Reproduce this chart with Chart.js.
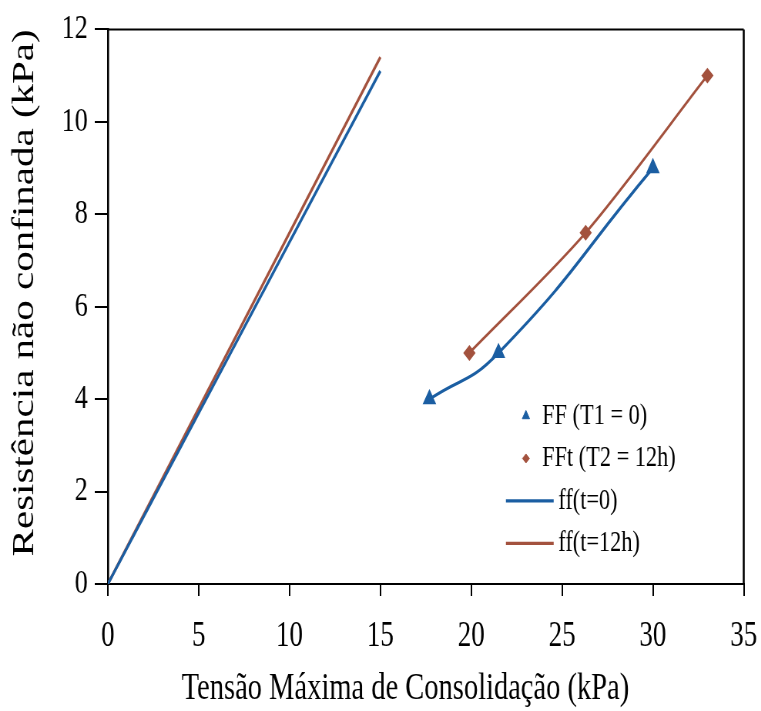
<!DOCTYPE html>
<html>
<head>
<meta charset="utf-8">
<script src="https://cdn.jsdelivr.net/npm/chart.js@4/dist/chart.umd.min.js"></script>
<style>
  html, body { margin: 0; padding: 0; background: #fff; overflow: hidden; width: 761px; height: 711px; }
  /* the scanned figure is narrower than it is tall, so draw wide and squeeze */
  #chart { display: block; transform: scaleX(0.7703); transform-origin: 0 0; }
</style>
</head>
<body>
<canvas id="chart" width="1003" height="711"></canvas>
<script>
// measured points
const ffT0X = [17.7, 21.5, 30.0]
const ffT0Y = [4.0, 5.0, 9.0]
const ffT12X = [19.9, 26.3, 33.0]
const ffT12Y = [5.0, 7.6, 11.0]
// fitted lines
const lineT0X = [0, 15]
const lineT0Y = [0, 11.1]
const lineT12X = [0, 15]
const lineT12Y = [0, 11.4]

const seriesLabels = ['FF (T1 = 0)', 'FFt (T2 = 12h)', 'ff(t=0)', 'ff(t=12h)']
const xTitle = 'Tensão Máxima de Consolidação (kPa)'
const yTitle = 'Resistência não confinada (kPa)'

const BLUE = '#1b5ea2'
const BROWN = '#a3523e'
const FONT = '"Liberation Serif", "Times New Roman", serif'

const toPoints = (xs, ys) => xs.map((x, i) => ({ x: x, y: ys[i] }))

// frame on top and right side of the plot, plus the two axis titles
const framePlugin = {
    id: 'frame',
    afterDraw(chart) {
        const { ctx, chartArea: a } = chart
        ctx.save()
        ctx.strokeStyle = '#000'
        ctx.lineWidth = 2
        ctx.beginPath()
        ctx.moveTo(a.left, a.top)
        ctx.lineTo(a.right, a.top)
        ctx.stroke()
        ctx.lineWidth = 2.6
        ctx.beginPath()
        ctx.moveTo(a.right, a.top)
        ctx.lineTo(a.right, a.bottom)
        ctx.stroke()

        ctx.fillStyle = '#000'
        ctx.textAlign = 'center'
        ctx.textBaseline = 'middle'
        ctx.font = '37px ' + FONT
        ctx.fillText(xTitle, a.left + (a.right - a.left) * 0.468, 689)
        ctx.translate(32, a.top + (a.bottom - a.top) * 0.475)
        ctx.rotate(-Math.PI / 2)
        ctx.font = '41px ' + FONT
        ctx.fillText(yTitle, 0, 0)
        ctx.restore()
    }
}

// legend box inside the plot, lower right
const legendPlugin = {
    id: 'insideLegend',
    afterDraw(chart) {
        const { ctx, chartArea: a } = chart
        const x0 = a.left + (a.right - a.left) * 0.626
        const y0 = a.top + (a.bottom - a.top) * 0.697
        const rowH = 42.5
        ctx.save()
        ctx.font = '29px ' + FONT
        ctx.textBaseline = 'middle'
        ctx.fillStyle = '#000'
        chart.data.datasets.forEach((ds, i) => {
            const y = y0 + i * rowH
            if (ds.pointRadius > 0) {
                ctx.fillStyle = ds.pointBackgroundColor
                ctx.strokeStyle = ds.pointBackgroundColor
                Chart.helpers.drawPoint(ctx, { pointStyle: ds.pointStyle, radius: ds.pointRadius - 1.5, borderWidth: 1 }, x0 + 26, y)
                ctx.fillStyle = '#000'
                ctx.fillText(ds.label, x0 + 47, y)
            } else {
                ctx.strokeStyle = ds.borderColor
                ctx.lineWidth = ds.borderWidth
                ctx.beginPath()
                ctx.moveTo(x0, y)
                ctx.lineTo(x0 + 62, y)
                ctx.stroke()
                ctx.fillStyle = '#000'
                ctx.fillText(ds.label, x0 + 68, y)
            }
        })
        ctx.restore()
    }
}

const chart = new Chart(document.getElementById('chart'), {
    type: 'scatter',
    data: {
        datasets: [{
            label: seriesLabels[0],
            data: toPoints(ffT0X, ffT0Y),
            showLine: true,
            tension: 0.5,
            borderColor: BLUE,
            borderWidth: 3.2,
            pointStyle: 'triangle',
            pointRadius: 7,
            pointBackgroundColor: BLUE,
            pointBorderColor: BLUE,
        }, {
            label: seriesLabels[1],
            data: toPoints(ffT12X, ffT12Y),
            showLine: true,
            tension: 0.3,
            borderColor: BROWN,
            borderWidth: 2.8,
            pointStyle: 'rectRot',
            pointRadius: 6,
            pointBackgroundColor: BROWN,
            pointBorderColor: BROWN,
        }, {
            label: seriesLabels[2],
            data: toPoints(lineT0X, lineT0Y),
            showLine: true,
            borderColor: BLUE,
            borderWidth: 3.2,
            pointRadius: 0,
        }, {
            label: seriesLabels[3],
            data: toPoints(lineT12X, lineT12Y),
            showLine: true,
            borderColor: BROWN,
            borderWidth: 3.2,
            pointRadius: 0,
        }]
    },
    options: {
        responsive: false,
        animation: false,
        devicePixelRatio: 1,
        layout: { padding: { top: 27, right: 0, left: 0, bottom: 0 } },
        plugins: {
            legend: { display: false },
            tooltip: { enabled: false }
        },
        scales: {
            x: {
                type: 'linear',
                min: 0,
                max: 35,
                afterFit: scale => { scale.height = 127 },
                ticks: { stepSize: 5, color: '#000', padding: 20, font: { family: FONT, size: 35 } },
                grid: { drawOnChartArea: false, tickLength: 12, color: '#000', lineWidth: 2 },
                border: { color: '#000', width: 2 }
            },
            y: {
                type: 'linear',
                min: 0,
                max: 12,
                afterFit: scale => { scale.width = 140 },
                ticks: { stepSize: 2, color: '#000', padding: 9, font: { family: FONT, size: 34 } },
                grid: { drawOnChartArea: false, tickLength: 17, color: '#000', lineWidth: 2 },
                border: { color: '#000', width: 2.6 }
            }
        }
    },
    plugins: [framePlugin, legendPlugin]
})
</script>
</body>
</html>
